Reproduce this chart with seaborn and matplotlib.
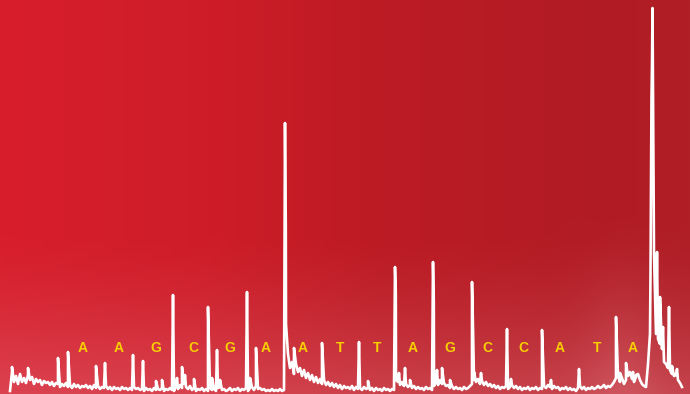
import numpy as np
import pandas as pd
import matplotlib
matplotlib.use("Agg")
import matplotlib.pyplot as plt
import seaborn as sns

# ---- chromatogram trace -------------------------------------------------
# baseline readings, one every 2 time units starting at t = 10
baseline_start = 10
baseline_step = 2
baseline_signal = [
    3, 22, 12, 18, 10, 20, 12, 16, 11, 19, 14, 17, 10, 15, 12, 14, 9, 13, 11, 12,
    9, 12, 8, 11, 10, 7, 10, 8, 11, 7, 9, 6, 10, 7, 9, 6, 8, 7, 9, 6,
    8, 5, 9, 6, 8, 5, 7, 6, 8, 5, 7, 4, 7, 5, 6, 4, 7, 5, 6, 4,
    6, 4, 7, 5, 6, 4, 5, 3, 6, 4, 5, 3, 6, 4, 5, 4, 6, 3, 5, 4,
    6, 4, 3, 8, 5, 9, 6, 10, 7, 5, 8, 4, 6, 3, 5, 4, 6, 3, 5, 3,
    6, 4, 5, 3, 6, 7, 4, 5, 3, 4, 6, 3, 5, 4, 6, 3, 5, 4, 6, 3,
    6, 7, 4, 8, 5, 6, 4, 5, 3, 4, 3, 5, 3, 4, 3, 5, 3, 4, 70, 40,
    26, 32, 20, 30, 22, 26, 18, 24, 16, 21, 14, 19, 12, 17, 11, 15, 10, 14, 9, 12,
    8, 11, 7, 10, 6, 9, 5, 8, 6, 7, 5, 8, 4, 7, 5, 6, 4, 7, 5, 6,
    4, 6, 3, 6, 4, 5, 3, 6, 4, 5, 3, 5, 4, 14, 12, 9, 12, 8, 10, 7,
    9, 6, 8, 5, 7, 5, 6, 4, 7, 5, 6, 4, 8, 12, 9, 14, 10, 11, 8, 9,
    6, 8, 5, 7, 5, 6, 4, 7, 5, 6, 8, 10, 14, 12, 15, 10, 13, 9, 12, 8,
    10, 7, 9, 6, 8, 5, 7, 6, 8, 5, 7, 9, 6, 8, 5, 7, 4, 6, 5, 7,
    4, 6, 5, 7, 4, 6, 5, 8, 6, 9, 7, 5, 8, 6, 7, 4, 6, 5, 7, 4,
    6, 4, 5, 3, 6, 8, 5, 7, 4, 6, 5, 7, 5, 6, 8, 6, 7, 9, 6, 8,
    7, 9, 12, 16, 18, 12, 16, 10, 14, 18, 22, 15, 12, 17, 20, 14, 10, 8, 7, 30,
    60, 330, 140, 60, 55, 50, 45, 32, 30, 26, 24, 20, 18, 19, 14, 11, 7,
]

# peak apexes (time, signal)
peak_time = [
    12, 28, 58, 68, 96, 105, 133, 143, 156, 162,
    173, 177, 182, 185, 194, 208, 212, 217, 220, 247,
    250, 256, 285, 285.8, 294, 322, 359, 368, 395, 395.8,
    399, 405, 410, 433, 433.8, 437, 442, 450, 472, 472.8,
    474, 481, 507, 511, 542, 551, 579, 616, 620, 626,
    633, 636, 650.5, 651.5, 652.5, 653.3, 657, 660, 663,
    669, 672, 677,
]
peak_signal = [
    27, 26, 36, 42, 28, 31, 39, 33, 13, 14,
    99, 16, 27, 19, 15, 87, 16, 44, 14, 102,
    16, 46, 271, 169, 46, 51, 52, 13, 127, 102,
    21, 26, 14, 132, 93, 24, 26, 14, 112, 76,
    22, 21, 65, 15, 64, 14, 25, 77, 21, 31,
    22, 19, 120, 296, 386, 250, 142, 97, 67,
    87, 28, 25,
]

# called bases and where they sit along the time axis
bases = list("AAGCGAATTAGCCATA")
base_time = [83, 119, 156, 193, 230, 266, 303, 340, 377, 413, 450, 487, 523, 560, 597, 633]
base_level = 46

baseline_time = baseline_start + baseline_step * np.arange(len(baseline_signal))
trace = pd.DataFrame({
    "time": np.concatenate([baseline_time, peak_time]),
    "signal": np.concatenate([baseline_signal, peak_signal]),
}).sort_values("time", kind="mergesort").reset_index(drop=True)

# ---- figure -------------------------------------------------------------
W, H = 690, 394
fig = plt.figure(figsize=(W / 100, H / 100), dpi=100)
ax = fig.add_axes([0, 0, 1, 1])
ax.set_xlim(0, W)
ax.set_ylim(0, H)
ax.set_axis_off()

# red backdrop: darker toward the right, washed pink toward the bottom
gx = np.linspace(0, 1, W)
gy = np.linspace(0, 1, H)[:, None]  # 0 = top row
stops = [0.0, 0.3, 0.55, 0.85, 1.0]
cols = np.array([[216, 30, 45], [206, 29, 41], [188, 27, 36], [178, 28, 36], [176, 30, 38]]) / 255
row = np.stack([np.interp(gx, stops, cols[:, c]) for c in range(3)], axis=-1)
img = np.repeat(row[None, :, :], H, axis=0)
pink = np.array([224, 118, 128]) / 255
w = np.clip((gy - 0.6) / 0.4, 0, 1) ** 1.4 * 0.42
glow = np.exp(-((gx - 0.9) / 0.06) ** 2)[None, :] * np.clip((gy - 0.55) / 0.45, 0, 1) * 0.2
w = np.clip(w + glow, 0, 0.6)[:, :, None]
img = img * (1 - w) + pink * w
ax.imshow(img, extent=[0, W, 0, H], aspect="auto", zorder=0, interpolation="bilinear")

sns.lineplot(data=trace, x="time", y="signal", sort=False, estimator=None,
             color="white", linewidth=1.9, ax=ax, zorder=2)

for b, t in zip(bases, base_time):
    ax.text(t, base_level, b, color="#f8cf00", fontsize=10, fontweight="bold",
            family=["Liberation Sans", "DejaVu Sans"],
            ha="center", va="center", zorder=3)

ax.set_xlim(0, W)
ax.set_ylim(0, H)
fig.savefig("out.png", dpi=100)
